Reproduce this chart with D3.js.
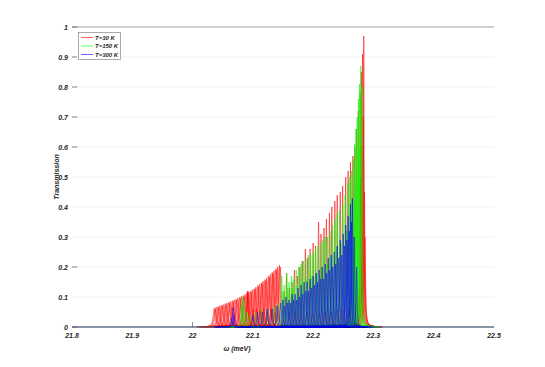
<!DOCTYPE html>
<html>
<head>
<meta charset="utf-8">
<script src="https://cdn.jsdelivr.net/npm/d3@7"></script>
<style>
  body { margin: 0; background: #fff; }
  text { font-family: "Liberation Sans", Arial, sans-serif; font-style: italic; font-weight: bold; fill: #262626; }
</style>
</head>
<body>
<svg id="chart" width="545" height="367"></svg>
<script>
// series names and colours
const seriesNames = ['T=30 K', 'T=150 K', 'T=300 K'];
const seriesColors = ['#ff0000', '#00ff00', '#0000ff'];

// peaks: [centre (meV), height, half width (meV)]
const peaks30 = [
  [22.036, .063, .0022], [22.039, .066, .0022], [22.042, .068, .0022], [22.045, .071, .0022],
  [22.048, .073, .0022], [22.051, .075, .0022], [22.054, .078, .0022], [22.057, .080, .0022],
  [22.060, .083, .0022], [22.063, .085, .0022], [22.066, .088, .0022], [22.069, .090, .0022],
  [22.072, .093, .0022], [22.075, .096, .0022], [22.078, .099, .0022], [22.081, .102, .0022],
  [22.084, .105, .0022], [22.087, .109, .0022], [22.090, .113, .0022], [22.093, .117, .0022],
  [22.091, .120, .0012], [22.092, .118, .0012],
  [22.096, .120, .0018], [22.099, .124, .0018], [22.102, .128, .0018], [22.105, .133, .0018],
  [22.108, .138, .0018], [22.111, .143, .0018], [22.114, .148, .0018], [22.117, .153, .0018],
  [22.120, .158, .0018], [22.123, .164, .0018], [22.126, .170, .0018], [22.129, .176, .0018],
  [22.132, .182, .0018], [22.135, .188, .0018], [22.138, .194, .0018], [22.141, .200, .0018],
  [22.144, .207, .0018],
  [22.0375, .060, .0022], [22.0435, .065, .0022], [22.0495, .070, .0022], [22.0555, .074, .0022],
  [22.0615, .079, .0022], [22.0675, .084, .0022], [22.0735, .089, .0022], [22.0795, .095, .0022],
  [22.0855, .101, .0022], [22.0915, .110, .0022], [22.0975, .116, .0018], [22.1035, .124, .0018],
  [22.1095, .134, .0018], [22.1155, .144, .0018], [22.1215, .154, .0018], [22.1275, .166, .0018],
  [22.1335, .178, .0018], [22.1395, .190, .0018], [22.1455, .200, .0018],
  [22.100, .06, .002], [22.106, .06, .002], [22.112, .055, .002], [22.118, .06, .002],
  [22.124, .05, .002], [22.130, .06, .002], [22.136, .05, .002], [22.142, .06, .002],
  [22.160, .05, .002], [22.170, .05, .002], [22.180, .045, .002], [22.190, .05, .002],
  [22.200, .045, .002], [22.210, .05, .002], [22.220, .05, .002], [22.230, .05, .002],
  [22.240, .055, .002], [22.250, .06, .002], [22.260, .07, .002], [22.270, .08, .002],
  [22.152, .12, .0009], [22.156, .18, .0009], [22.161, .13, .0009], [22.165, .15, .0009],
  [22.169, .19, .0009], [22.174, .17, .0009], [22.178, .20, .0009], [22.182, .22, .0009],
  [22.187, .26, .0009], [22.191, .23, .0009], [22.195, .26, .0009], [22.200, .28, .0009],
  [22.204, .27, .0009], [22.209, .35, .0009], [22.213, .31, .0009], [22.218, .33, .0009],
  [22.222, .36, .0009], [22.227, .38, .0009], [22.231, .40, .0009], [22.236, .42, .0009],
  [22.240, .44, .0009], [22.245, .45, .0009], [22.249, .47, .0009], [22.254, .50, .0009],
  [22.258, .52, .0009], [22.262, .55, .0009], [22.266, .57, .0009], [22.269, .60, .0009],
  [22.272, .66, .0009], [22.275, .72, .0009], [22.278, .78, .0009], [22.280, .85, .0009],
  [22.282, .91, .0009], [22.284, .97, .0008],
  [22.279, .50, .0011], [22.281, .60, .0011], [22.283, .70, .0011], [22.285, .45, .0011],
  [22.286, .30, .0011]
];
const peaks150 = [
  [22.081, .07, .0012], [22.083, .10, .0012], [22.085, .09, .0012],
  [22.090, .05, .0015], [22.095, .04, .0015],
  [22.105, .05, .0012], [22.115, .06, .0012], [22.125, .06, .0012], [22.135, .07, .0012],
  [22.142, .08, .0012],
  [22.150, .12, .0012], [22.158, .13, .0012], [22.166, .13, .0012], [22.174, .14, .0012],
  [22.182, .15, .0012], [22.190, .16, .0012], [22.198, .17, .0012], [22.206, .18, .0012],
  [22.214, .20, .0012], [22.222, .21, .0012], [22.230, .23, .0012], [22.238, .26, .0012],
  [22.246, .28, .0012], [22.255, .32, .0012], [22.262, .36, .0012], [22.268, .42, .0012],
  [22.272, .50, .0012], [22.276, .60, .0012],
  [22.148, .17, .0009], [22.152, .14, .0009], [22.156, .18, .0009], [22.160, .15, .0009],
  [22.164, .17, .0009], [22.168, .16, .0009], [22.172, .19, .0009], [22.176, .20, .0009],
  [22.180, .21, .0009], [22.184, .22, .0009], [22.188, .23, .0009], [22.192, .24, .0009],
  [22.196, .24, .0009], [22.200, .25, .0009], [22.204, .26, .0009], [22.208, .27, .0009],
  [22.212, .28, .0009], [22.216, .29, .0009], [22.220, .30, .0009], [22.224, .30, .0009],
  [22.228, .32, .0009], [22.232, .34, .0009], [22.236, .36, .0009], [22.240, .38, .0009],
  [22.244, .39, .0009], [22.249, .41, .0009], [22.253, .44, .0009], [22.258, .48, .0009],
  [22.261, .50, .0009], [22.264, .52, .0009], [22.267, .56, .0009], [22.269, .61, .0009],
  [22.271, .66, .0009], [22.273, .70, .0009], [22.275, .76, .0009], [22.277, .81, .0009],
  [22.279, .87, .0009], [22.281, .80, .0009]
];
const peaks300 = [
  [22.065, .03, .0010], [22.067, .065, .0010], [22.069, .04, .0010],
  [22.100, .04, .0012], [22.108, .05, .0012], [22.116, .05, .0012], [22.124, .06, .0012],
  [22.132, .06, .0012], [22.140, .07, .0012], [22.146, .08, .0012],
  [22.1525, .07, .0011], [22.1575, .08, .0011], [22.1625, .08, .0011], [22.1675, .09, .0011],
  [22.1725, .09, .0011], [22.1775, .10, .0011], [22.1825, .11, .0011], [22.1875, .12, .0011],
  [22.1925, .12, .0011], [22.1975, .13, .0011], [22.2025, .14, .0011], [22.2075, .15, .0011],
  [22.2125, .16, .0011], [22.2175, .16, .0011], [22.2225, .18, .0011], [22.2275, .19, .0011],
  [22.2325, .20, .0011], [22.2375, .21, .0011], [22.2425, .23, .0011], [22.2475, .24, .0011],
  [22.2520, .27, .0011], [22.2560, .29, .0011], [22.2600, .32, .0011], [22.2635, .35, .0011],
  [22.150, .09, .0009], [22.155, .10, .0009], [22.160, .09, .0009], [22.165, .11, .0009],
  [22.170, .11, .0009], [22.175, .13, .0009], [22.180, .14, .0009], [22.185, .15, .0009],
  [22.190, .15, .0009], [22.195, .16, .0009], [22.200, .17, .0009], [22.205, .18, .0009],
  [22.210, .19, .0009], [22.215, .20, .0009], [22.220, .21, .0009], [22.225, .23, .0009],
  [22.230, .24, .0009], [22.235, .25, .0009], [22.240, .27, .0009], [22.245, .29, .0009],
  [22.250, .31, .0009], [22.254, .34, .0009], [22.258, .37, .0009], [22.262, .41, .0009],
  [22.265, .43, .0009], [22.268, .30, .0009], [22.272, .20, .0009]
];
const allPeaks = [peaks30, peaks150, peaks300];

const xTicks = [21.8, 21.9, 22, 22.1, 22.2, 22.3, 22.4, 22.5];
const yTicks = [0, 0.1, 0.2, 0.3, 0.4, 0.5, 0.6, 0.7, 0.8, 0.9, 1];
const yTickMarks = [0, 0.2, 0.6, 0.7, 0.8, 0.9, 1];
const xTickMarks = [22];

const svg = d3.select('#chart');
const x = d3.scaleLinear().domain([21.8, 22.5]).range([72, 494]);
const y = d3.scaleLinear().domain([0, 1]).range([327, 27]);

// grid
svg.append('g')
  .selectAll('line')
  .data(yTicks.filter(d => d > 0 && d < 1))
  .join('line')
  .attr('x1', x(21.8)).attr('x2', x(22.5))
  .attr('y1', d => y(d)).attr('y2', d => y(d))
  .attr('stroke', '#ebebeb').attr('stroke-width', 0.7);

// top edge
svg.append('line')
  .attr('x1', x(21.8)).attr('x2', x(22.5))
  .attr('y1', y(1)).attr('y2', y(1))
  .attr('stroke', '#a0a0a0').attr('stroke-width', 1);

// one line per peak, lorentzian shape
const line = d3.line().x(d => x(d[0])).y(d => y(d[1]));
function peakPoints(p) {
  const [c, h, g] = p;
  const pts = [];
  for (let w = c - 0.03; w <= c + 0.03; w += 0.0001) {
    pts.push([w, h * g * g / ((w - c) * (w - c) + g * g)]);
  }
  return pts;
}

allPeaks.forEach((peaks, i) => {
  const g = svg.append('g');
  g.selectAll('path')
    .data(peaks)
    .join('path')
    .attr('d', d => line(peakPoints(d)))
    .attr('fill', 'none')
    .attr('stroke', seriesColors[i])
    .attr('stroke-width', 0.65)
    .attr('stroke-opacity', 0.85);
  // zero level of the series across the whole range
  g.append('path')
    .attr('d', line([[21.8, 0], [22.5, 0]]))
    .attr('fill', 'none')
    .attr('stroke', seriesColors[i])
    .attr('stroke-width', 1)
    .attr('stroke-opacity', 0.55);
});

// ticks
svg.append('g')
  .selectAll('line')
  .data(yTickMarks)
  .join('line')
  .attr('x1', 72).attr('x2', 77)
  .attr('y1', d => y(d)).attr('y2', d => y(d))
  .attr('stroke', '#555').attr('stroke-width', 0.7);
svg.append('g')
  .selectAll('line')
  .data(xTickMarks)
  .join('line')
  .attr('x1', d => x(d)).attr('x2', d => x(d))
  .attr('y1', 327).attr('y2', 322)
  .attr('stroke', '#555').attr('stroke-width', 0.7);

// tick labels
svg.append('g')
  .selectAll('text')
  .data(yTicks)
  .join('text')
  .attr('x', 68).attr('y', d => y(d) + 2.5)
  .attr('text-anchor', 'end')
  .attr('font-size', 7)
  .text(d => d3.format('~g')(d));
svg.append('g')
  .selectAll('text')
  .data(xTicks)
  .join('text')
  .attr('x', d => x(d)).attr('y', 338)
  .attr('text-anchor', 'middle')
  .attr('font-size', 7)
  .text(d => d3.format('~g')(d));

// axis titles
svg.append('text')
  .attr('x', 237).attr('y', 351)
  .attr('text-anchor', 'middle')
  .attr('font-size', 7)
  .text('\u03c9 (meV)');
svg.append('text')
  .attr('transform', 'translate(59,177) rotate(-90)')
  .attr('text-anchor', 'middle')
  .attr('font-size', 7)
  .text('Transmission');

// legend
const legend = svg.append('g');
legend.append('rect')
  .attr('x', 78.5).attr('y', 32.5).attr('width', 42).attr('height', 27)
  .attr('fill', '#fff').attr('stroke', '#888').attr('stroke-width', 0.7);
seriesNames.forEach((name, i) => {
  const ly = 37.5 + i * 8.5;
  legend.append('line')
    .attr('x1', 81).attr('x2', 93).attr('y1', ly).attr('y2', ly)
    .attr('stroke', seriesColors[i]).attr('stroke-width', 1).attr('stroke-opacity', 0.6);
  legend.append('text')
    .attr('x', 95).attr('y', ly + 2.3)
    .attr('font-size', 6)
    .text(name);
});
</script>
</body>
</html>
